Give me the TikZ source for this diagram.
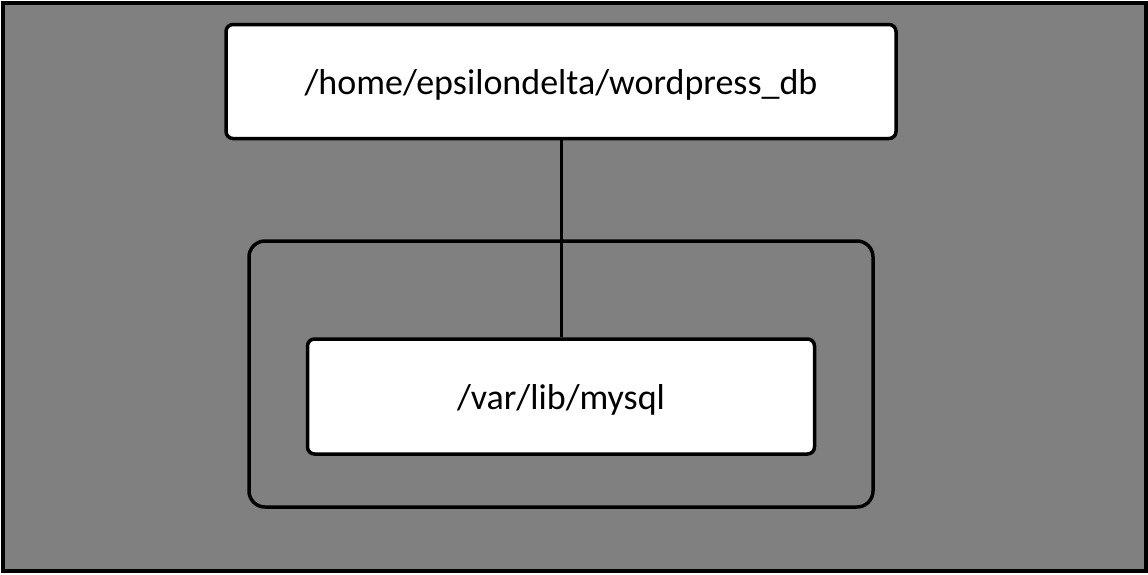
\documentclass[tikz,border=0pt]{standalone}
\usepackage{fontspec}
\setmainfont{Carlito}
\begin{document}
\begin{tikzpicture}[x=1pt,y=-1pt,
  box/.style={draw=black,fill=white,line width=3.5pt,rounded corners=7pt,inner sep=0pt,text height=30pt,text depth=5pt,font=\fontsize{36}{42}\selectfont},
  container/.style={draw=black,line width=3.5pt,rounded corners=16pt},
  link/.style={draw=black,line width=3pt}]
\useasboundingbox (0,0) rectangle (1148,574);
\draw[fill={rgb,255:red,128;green,128;blue,128},line width=4pt] (2.5,2.5) rectangle (1145.5,571);
\draw[container] (249,241) rectangle (873,507);
\node[box,minimum width=670pt,minimum height=114pt] (top) at (561,81.5) {/home/epsilondelta/wordpress\_db};
\node[box,minimum width=507pt,minimum height=115pt] (mysql) at (561,396.5) {/var/lib/mysql};
\draw[link] (top.south) -- (mysql.north);
\end{tikzpicture}
\end{document}
